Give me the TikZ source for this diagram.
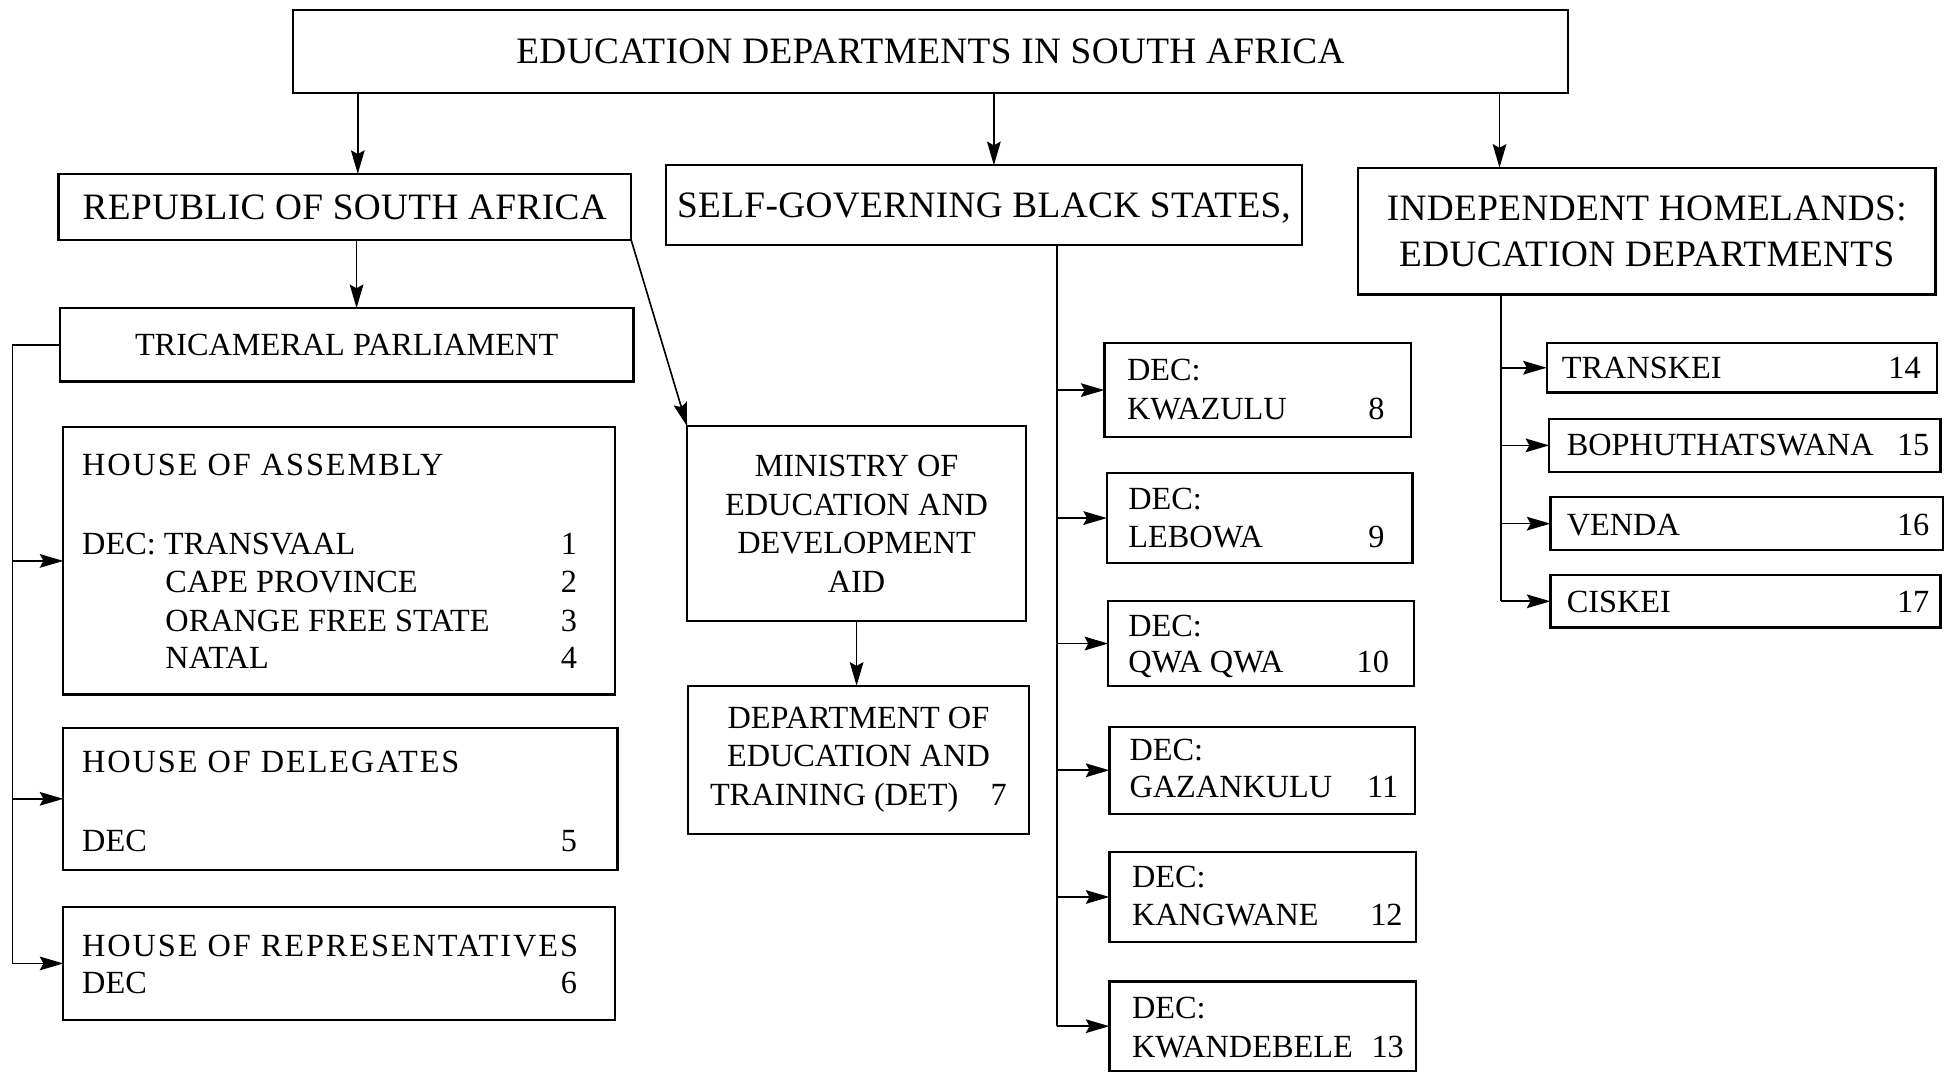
\documentclass[tikz,border=0pt]{standalone}
\usepackage{fontspec}
\setmainfont{Liberation Serif}
\usetikzlibrary{arrows.meta}
\begin{document}
\begin{tikzpicture}[x=1pt,y=-1pt,
  box/.style={draw, line width=1.8pt, inner sep=0pt, outer sep=0pt, align=center},
  big/.style={font=\fontsize{30}{37}\selectfont\addfontfeatures{LetterSpace=1}},
  body/.style={font=\fontsize{26}{31}\selectfont},
  wide/.style={font=\fontsize{26}{31}\selectfont\addfontfeatures{LetterSpace=6}},
  lbl/.style={body, anchor=base west, inner sep=0pt},
  num/.style={body, anchor=base, inner sep=0pt},
  con/.style={line width=1.3pt},
  arr/.style={line width=1.3pt, -{Stealth[length=19pt,width=11pt,inset=3pt]}}
]
\useasboundingbox (0,0) rectangle (1568,864);

% top level
\node[box, big, minimum width=1026, minimum height=67] (top) at (749,41.5) {EDUCATION DEPARTMENTS IN SOUTH AFRICA};

% second level
\node[box, big, minimum width=461, minimum height=53] (rsa) at (277.5,166.5) {REPUBLIC OF SOUTH AFRICA};
\node[box, big, minimum width=512, minimum height=64] (sgbs) at (792,165) {SELF-GOVERNING BLACK STATES\smash{,}};
\node[box, big, minimum width=465, minimum height=102] (ih) at (1325.5,186) {INDEPENDENT HOMELANDS:\\EDUCATION DEPARTMENTS};

% RSA branch
\node[box, body, minimum width=462, minimum height=59] (tri) at (279,277.5) {TRICAMERAL PARLIAMENT};
\node[box, body, minimum width=273, minimum height=157] (min) at (689.5,421.5) {MINISTRY OF\\EDUCATION AND\\DEVELOPMENT\\AID};
\node[box, body, minimum width=274, minimum height=119] (det) at (691,611.5) {DEPARTMENT OF\\EDUCATION AND\\TRAINING (DET)\quad 7};

\node[box, minimum width=444, minimum height=215] (hoa) at (273,451.5) {};
\node[box, minimum width=446, minimum height=114] (hod) at (274,643) {};
\node[box, minimum width=444, minimum height=91] (hor) at (273,775.5) {};

\node[lbl, wide] (hoa1) at (66,383) {HOUSE OF ASSEMBLY};
\node[lbl] (hoa2) at (66,446) {DEC: TRANSVAAL};
\node[lbl] (hoa3) at (133,477) {CAPE PROVINCE};
\node[lbl] (hoa4) at (133,508) {ORANGE FREE STATE};
\node[lbl] (hoa5) at (133,538) {NATAL};
\node[num] (n1) at (458,446) {1};
\node[num] (n2) at (458,477) {2};
\node[num] (n3) at (458,508) {3};
\node[num] (n4) at (458,538) {4};

\node[lbl, wide] (hod1) at (66,622) {HOUSE OF DELEGATES};
\node[lbl] (hod2) at (66,685) {DEC};
\node[num] (n5) at (458,685) {5};

\node[lbl, wide] (hor1) at (66,770) {HOUSE OF REPRESENTATIVES};
\node[lbl] (hor2) at (66,800) {DEC};
\node[num] (n6) at (458,800) {6};

% self-governing states
\node[box, minimum width=247, minimum height=76] (d1) at (1012.5,314) {};
\node[box, minimum width=246, minimum height=72] (d2) at (1014,417) {};
\node[box, minimum width=246, minimum height=68] (d3) at (1015,518) {};
\node[box, minimum width=246, minimum height=70] (d4) at (1016,620) {};
\node[box, minimum width=247, minimum height=72] (d5) at (1016.5,722) {};
\node[box, minimum width=247, minimum height=72] (d6) at (1016.5,826) {};

\node[lbl] (d1a) at (907,306) {DEC:};
\node[lbl] (d1b) at (907,338) {KWAZULU};
\node[num] (n8) at (1108,338) {8};
\node[lbl] (d2a) at (908,410) {DEC:};
\node[lbl] (d2b) at (908,441) {LEBOWA};
\node[num] (n9) at (1108,441) {9};
\node[lbl] (d3a) at (908,512) {DEC:};
\node[lbl] (d3b) at (908,541) {QWA QWA};
\node[num] (n10) at (1105,541) {10};
\node[lbl] (d4a) at (909,612) {DEC:};
\node[lbl] (d4b) at (909,642) {GAZANKULU};
\node[num] (n11) at (1113,642) {11};
\node[lbl] (d5a) at (911,714) {DEC:};
\node[lbl] (d5b) at (911,745) {KANGWANE};
\node[num] (n12) at (1116,745) {12};
\node[lbl] (d6a) at (911,820) {DEC:};
\node[lbl] (d6b) at (911,851) {KWANDEBELE};
\node[num] (n13) at (1117,851) {13};

% homelands
\node[box, minimum width=314, minimum height=40] (h1) at (1402,296) {};
\node[box, minimum width=315, minimum height=43] (h2) at (1404.5,358.5) {};
\node[box, minimum width=316, minimum height=43] (h3) at (1406,421.5) {};
\node[box, minimum width=314, minimum height=42] (h4) at (1405,484) {};

\node[lbl] (h1a) at (1257,305) {TRANSKEI};
\node[num] (n14) at (1533,305) {14};
\node[lbl] (h2a) at (1261,367) {BOPHUTHATSWANA};
\node[num] (n15) at (1540,367) {15};
\node[lbl] (h3a) at (1261,431) {VENDA};
\node[num] (n16) at (1540,431) {16};
\node[lbl] (h4a) at (1261,493) {CISKEI};
\node[num] (n17) at (1540,493) {17};

% connectors from the top box
\draw[arr] ([xshift=10.5pt]rsa.north |- top.south) -- ([xshift=10.5pt]rsa.north);
\draw[arr] ([xshift=8pt]sgbs.north |- top.south) -- ([xshift=8pt]sgbs.north);
\draw[arr] ([xshift=-118.5pt]ih.north |- top.south) -- ([xshift=-118.5pt]ih.north);

% RSA connectors
\draw[arr] ([xshift=9.5pt]rsa.south) -- ([xshift=9.5pt]rsa.south |- tri.north);
\draw[arr] (rsa.south east) -- (min.north west);
\draw[arr] (min.south) -- (min.south |- det.north);

% tricameral bus
\coordinate (lbus) at (10,0);
\draw[con] (tri.west) -- (tri.west -| lbus) -- (hor.west -| lbus);
\draw[arr] (hoa.west -| lbus) -- (hoa.west);
\draw[arr] (hod.west -| lbus) -- (hod.west);
\draw[arr] (hor.west -| lbus) -- (hor.west);

% self-governing bus
\coordinate (sbus) at ([xshift=59pt]sgbs.south);
\draw[con] (sbus) -- (sbus |- d6.west);
\draw[arr] (sbus |- d1.west) -- (d1.west);
\draw[arr] (sbus |- d2.west) -- (d2.west);
\draw[arr] (sbus |- d3.west) -- (d3.west);
\draw[arr] (sbus |- d4.west) -- (d4.west);
\draw[arr] (sbus |- d5.west) -- (d5.west);
\draw[arr] (sbus |- d6.west) -- (d6.west);

% homelands bus
\coordinate (hbus) at ([xshift=-117.5pt]ih.south);
\draw[con] (hbus) -- (hbus |- h4.west);
\draw[arr] (hbus |- h1.west) -- (h1.west);
\draw[arr] (hbus |- h2.west) -- (h2.west);
\draw[arr] (hbus |- h3.west) -- (h3.west);
\draw[arr] (hbus |- h4.west) -- (h4.west);
\end{tikzpicture}
\end{document}
